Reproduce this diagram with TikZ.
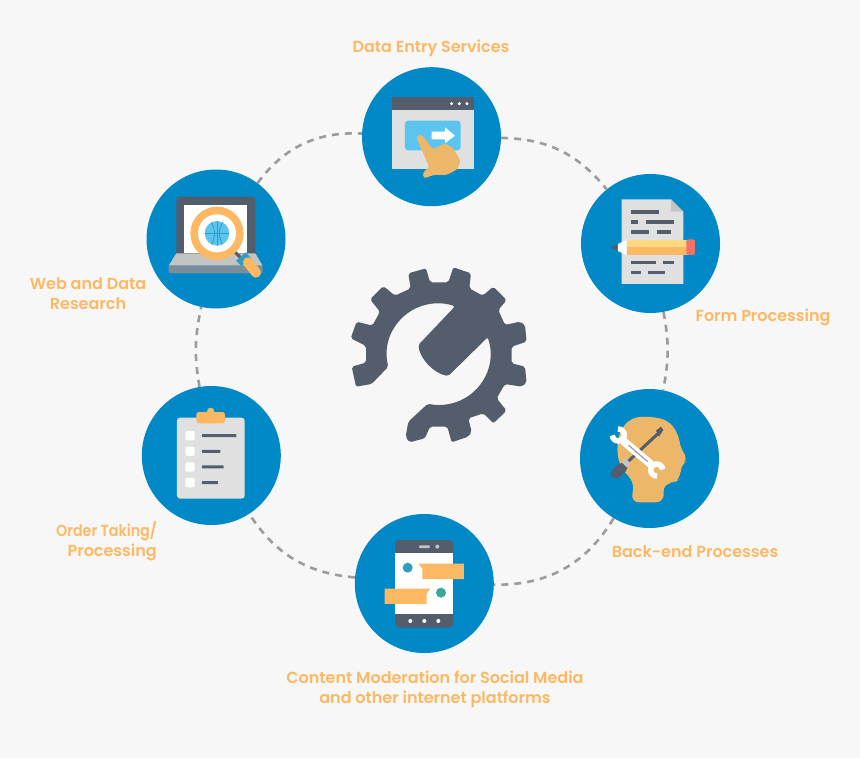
\documentclass[tikz,border=0pt]{standalone}
\usepackage{fontspec}
\setmainfont{Poppins}[UprightFont=*,BoldFont=* SemiBold]
\definecolor{bgc}{HTML}{F7F7F7}
\definecolor{blu}{HTML}{0088C7}
\definecolor{dark}{HTML}{535D6C}
\definecolor{org}{HTML}{FDB863}
\definecolor{tan}{HTML}{EDB76A}
\definecolor{pale}{HTML}{E0E0E0}
\definecolor{midg}{HTML}{C4C4C4}
\definecolor{lblu}{HTML}{5BC5F0}
\definecolor{teal}{HTML}{2E9FC0}
\definecolor{grn}{HTML}{3AA898}
\definecolor{dashc}{HTML}{9C9C9C}
\definecolor{pyel}{HTML}{FFD97E}
\definecolor{eras}{HTML}{F2726A}
\definecolor{lapb}{HTML}{7B8D9A}
\tikzset{
  disc/.style={circle,fill=blu,inner sep=0pt,minimum size=139pt},
  label/.style={text=org,font=\fontsize{16}{20}\selectfont\bfseries,align=center,inner sep=0pt},
  ring/.style={draw=dashc,line width=2.6pt,dash pattern=on 7pt off 6pt},
  icon/.style={x=0.3333pt,y=-0.3333pt},
}
\begin{document}
\begin{tikzpicture}[x=1pt,y=-1pt]
\useasboundingbox (0,0) rectangle (860,758);
\fill[bgc] (0,0) rectangle (860,758);
% discs
\node[disc] (top) at (431.5,136.7) {};
\node[disc] (form) at (650.5,243.5) {};
\node[disc] (back) at (649.5,458.5) {};
\node[disc] (content) at (424.3,583.5) {};
\node[disc] (order) at (211.3,455.5) {};
\node[disc] (web) at (216,239) {};
% connectors
\draw[ring] (top) to[bend left=25] (form);
\draw[ring] (form) to[bend left=11] (back);
\draw[ring] (back) to[bend left=30] (content);
\draw[ring] (content) to[bend left=26] (order);
\draw[ring] (order) to[bend left=11] (web);
\draw[ring] (web) to[bend left=28] (top);
% gear
\begin{scope}[shift={(340,250)},icon]
\fill[dark,rounded corners=2pt] (205,515)--(197,560)--(208,577)--(255,565)--(270,530)--(322,530)--(335,577)--(385,560)--(395,545)--(385,505)--(430,490)--(460,520)--(500,482)--(470,445)--(495,402)--(545,410)--(560,398)--(555,350)--(515,340)--(515,290)--(560,275)--(555,225)--(540,215)--(495,225)--(475,180)--(500,150)--(460,110)--(428,137)--(388,115)--(393,70)--(340,52)--(325,97)--(270,97)--(258,55)--(205,70)--(212,115)--(165,137)--(130,108)--(90,148)--(120,185)--(97,227)--(50,215)--(32,265)--(78,288)--(78,338)--(35,350)--(48,410)--(95,402)--(145,350)
 arc[start angle=166,end angle=289.7,radius=153]
 --(235,285) .. controls (240,325) and (280,370) .. (325,378)--(443,262)
 arc[start angle=-19,end angle=103,radius=153]--cycle;
\end{scope}
% data entry icon
\begin{scope}[shift={(350,60)},icon]
\fill[pale] (126,112) rectangle (371,328);
\fill[dark] (126,112) rectangle (371,150);
\foreach \q in {305,328,351} \fill[white] (\q,131) circle[radius=5];
\fill[lblu,rounded corners=3pt] (165,182) rectangle (332,271);
\fill[white] (245,215)--(285,215)--(285,202)--(315,227)--(285,250)--(285,238)--(245,238)--cycle;
\fill[tan,rounded corners=2.5pt] (199,232)--(210,222)--(222,232)--(248,268)--(285,250)--(310,265)--(332,303)--(322,328)--(290,345)--(250,345)--(222,356)--(218,338)--(238,322)--cycle;
\end{scope}
% form icon
\begin{scope}[shift={(575,170)},icon]
\fill[pale] (140,88)--(288,88)--(325,125)--(325,342)--(140,342)--cycle;
\fill[midg] (288,88)--(325,125)--(288,125)--cycle;
\foreach \a/\b/\c in {168/253/121,168/190/151,212/297/151,168/223/181,245/287/181,168/243/272,265/297/272,168/197/302,219/269/302}
  \fill[dark] (\a,\c) rectangle (\b,\c+10);
\fill[org] (155,232) rectangle (338,255);
\fill[pyel] (155,210) rectangle (338,232);
\fill[eras,rounded corners=1.5pt] (334,208) rectangle (360,255);
\fill[white] (155,210)--(128,222)--(128,243)--(155,255)--cycle;
\fill[dark] (128,222)--(107,232)--(128,243)--cycle;
\end{scope}
% back-end icon
\begin{scope}[shift={(575,385)},icon]
\fill[tan,rounded corners=8pt] (168,352)--(178,290)--(145,260)--(126,215)--(130,145)--(165,100)--(215,93)--(280,105)--(312,150)--(315,190)--(342,225)--(315,240)--(318,280)--(295,295)--(265,295)--(267,352)--cycle;
\draw[dark,line width=3pt] (150,238)--(250,145);
\fill[dark] (243,137)--(258,125)--(265,135)--(252,155)--cycle;
\draw[dark,line width=10pt,line cap=round] (122,266)--(142,248);
\fill[midg] (140,232)--(152,220)--(167,235)--(155,247)--cycle;
\draw[white,line width=8pt] (145,168)--(228,238);
\draw[dark!60,line width=1.2pt] (160,180)--(218,230);
\draw[white,line width=5.5pt] (130,150)++(266:18) arc[start angle=266,end angle=536,radius=18];
\draw[white,line width=5.5pt] (245,255)++(86:18) arc[start angle=86,end angle=356,radius=18];
\end{scope}
% content icon
\begin{scope}[shift={(350,510)},icon]
\fill[dark,rounded corners=4pt] (136,90) rectangle (310,353);
\fill[white] (136,130) rectangle (310,313);
\fill[midg,rounded corners=1pt] (207,106) rectangle (240,114);
\fill[midg] (262,110) circle[radius=6];
\foreach \q in {181,223,265} \fill[white] (\q,333) circle[radius=6];
\fill[teal] (173,173) circle[radius=15];
\fill[grn] (273,248) circle[radius=15];
\fill[org] (205,161)--(342,161)--(342,207)--(217,207)--(217,175)--cycle;
\fill[org] (104,236)--(241,236)--(230,250)--(230,282)--(104,282)--cycle;
\end{scope}
% order icon
\begin{scope}[shift={(137,382)},icon]
\fill[pale,rounded corners=3pt] (120,107) rectangle (323,350);
\fill[org] (221,88) circle[radius=11];
\fill[org,rounded corners=2.5pt] (178,90) rectangle (264,124);
\foreach \c/\e in {161/298,208/250,255/260,302/243}{
  \fill[white,rounded corners=2pt] (145,\c-14) rectangle (173,\c+14);
  \fill[dark,rounded corners=0.5pt] (195,\c-4.5) rectangle (\e,\c+4.5);
}
\end{scope}
% web icon
\begin{scope}[shift={(142,165)},icon]
\fill[dark,rounded corners=3pt] (103,95) rectangle (340,280);
\fill[white] (127,120) rectangle (316,265);
\fill[midg] (103,265)--(340,265)--(362,302)--(80,302)--cycle;
\fill[lapb,rounded corners=2pt] (80,302)--(362,302)--(362,325)--(80,325)--cycle;
\draw[dark,line width=3pt] (275,257)--(295,277);
\fill[teal] (282,287)--(312,262)--(327,280)--(298,303)--cycle;
\draw[org,line width=10pt,line cap=round] (318,292)--(342,323);
\fill[org] (225,205) circle[radius=80];
\fill[white] (225,205) circle[radius=57];
\fill[lblu] (225,205) circle[radius=37];
\begin{scope}
\clip (225,205) circle[radius=37];
\draw[teal,line width=0.8pt] (188,205)--(262,205) (225,168)--(225,242);
\draw[teal,line width=0.8pt] (205,168) .. controls (222,190) and (222,220) .. (205,242);
\draw[teal,line width=0.8pt] (245,168) .. controls (228,190) and (228,220) .. (245,242);
\end{scope}
\end{scope}
% labels
\node[label] (l1) at (431,48) {Data Entry Services};
\node[label] (l2) at (763,317) {Form Processing};
\node[label] (l3) at (695,551.5) {Back-end Processes};
\node[label] (l4) at (435,689) {Content Moderation for Social Media\\and other internet platforms};
\node[label,align=right,anchor=east] (l5) at (157,541) {\scalebox{0.89}[1]{Order Taking/}\\Processing};
\node[label] (l6) at (88,294) {Web and Data\\Research};
\end{tikzpicture}
\end{document}
